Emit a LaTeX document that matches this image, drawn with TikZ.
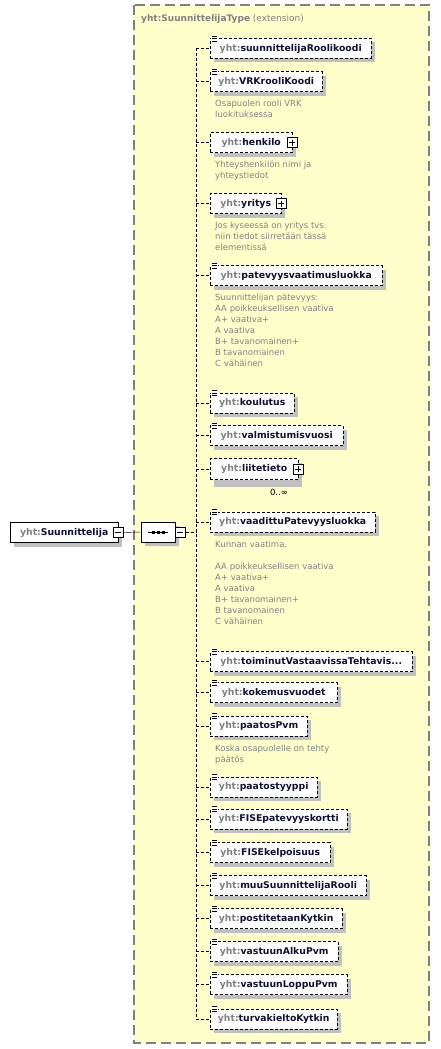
\documentclass[tikz,border=0pt]{standalone}
\usepackage{fontspec}
\setmainfont{DejaVu Sans}
\usetikzlibrary{shadows,shapes.misc}

\definecolor{typeyellow}{RGB}{255,255,204}
\definecolor{framegray}{RGB}{128,128,128}
\definecolor{shadegray}{RGB}{192,192,192}
\definecolor{pfxgray}{RGB}{128,128,128}
\definecolor{namedark}{RGB}{16,16,48}
\definecolor{docgray}{RGB}{128,128,128}

\newcommand{\pfx}{\textcolor{pfxgray}{yht:}}
\newcommand{\docicon}[1]{%
  \fill[white] ([shift={(1pt,3pt)}]#1.north west) rectangle ([shift={(8pt,-4pt)}]#1.north west);
  \foreach \dy in {2,-0.5,-3} \draw[line width=0.9pt] ([shift={(2pt,\dy pt)}]#1.north west) -- ++(5,0);
}

\tikzset{
  typebox/.style={fill=typeyellow, draw=framegray, line width=1.2pt, dash pattern=on 10pt off 5pt},
  typetitle/.style={anchor=base west, inner sep=0pt, text=pfxgray, font=\fontsize{9}{11}\selectfont},
  boxshadow/.style={drop shadow={shadow xshift=4pt, shadow yshift=-4pt, fill=shadegray, opacity=1}},
  root/.style={draw, fill=white, anchor=west, minimum height=20pt, inner sep=0pt, text=namedark,
    font=\fontsize{9.3}{11}\selectfont\bfseries, boxshadow},
  elem/.style={root, dash pattern=on 3pt off 2pt},
  desc/.style={anchor=base west, align=left, inner sep=0pt, text=docgray, font=\fontsize{8.5}{11}\selectfont},
  seq/.style={chamfered rectangle, chamfered rectangle xsep=5pt, draw, fill=white, minimum width=34pt,
    minimum height=20pt, inner sep=0pt, boxshadow},
  minus/.style={draw, solid, fill=white, minimum size=10pt, inner sep=0pt,
    path picture={\draw ([xshift=2pt]path picture bounding box.west) -- ([xshift=-2pt]path picture bounding box.east);}},
  plus/.style={minus,
    path picture={\draw ([xshift=2pt]path picture bounding box.west) -- ([xshift=-2pt]path picture bounding box.east);
      \draw ([yshift=-2pt]path picture bounding box.north) -- ([yshift=2pt]path picture bounding box.south);}},
  link/.style={dash pattern=on 3pt off 2pt, line width=0.8pt},
  mult/.style={anchor=base, inner sep=0pt, font=\fontsize{8.5}{11}\selectfont}
}

\begin{document}
\begin{tikzpicture}[x=1pt, y=-1pt]
\useasboundingbox (0,0) rectangle (440,1049);

% Dibuja el tipo
\draw[typebox] (134,5) rectangle (429,1043);
\node[typetitle] (title) at (141,22) {\textbf{yht:SuunnittelijaType} (extension)};

% Elemento raiz y secuencia
\node[root, minimum width=108pt] (suunnittelija) at (10,532.5) {\pfx Suunnittelija};
\node[minus] (suunnittelijaminus) at (suunnittelija.east) {};
\node[seq] (sequence) at (158,532) {};
\node[minus, anchor=west] (sequenceminus) at (sequence.east) {};
\draw (suunnittelijaminus.east) -- (sequence.west);
\draw ([xshift=-10pt]sequence.center) -- ([xshift=10pt]sequence.center);
\foreach \dx in {-5,0,5} \fill ([xshift=\dx pt]sequence.center) +(-1.5,-1.5) rectangle +(1.5,1.5);

% Elementos hijos (las notas se colocan por la linea base de su ultima linea)
\node[elem, minimum width=161pt] (roolikoodi) at (210,48.5) {\pfx suunnittelijaRoolikoodi};
\node[elem, minimum width=112pt] (vrkkoodi) at (210,81.5) {\pfx VRKrooliKoodi};
\node[desc] (vrkdoc) at (215,117) {Osapuolen rooli VRK\\luokituksessa};

\node[elem, minimum width=82pt] (henkilo) at (210,142.5) {\pfx henkilo};
\node[plus] (henkiloplus) at (henkilo.east) {};
\node[desc] (henkilodoc) at (215,178) {Yhteyshenkilön nimi ja\\yhteystiedot};

\node[elem, minimum width=71pt] (yritys) at (210,203.5) {\pfx yritys};
\node[plus] (yritysplus) at (yritys.east) {};
\node[desc] (yritysdoc) at (215,250) {Jos kyseessä on yritys tvs.\\niin tiedot siirretään tässä\\elementissä};

\node[elem, minimum width=172pt] (patevyys) at (210,275.5) {\pfx patevyysvaatimusluokka};
\node[desc] (patevyysdoc) at (215,366) {Suunnittelijan pätevyys:\\AA poikkeuksellisen vaativa\\A+ vaativa+\\A vaativa\\B+ tavanomainen+\\B tavanomainen\\C vähäinen};

\node[elem, minimum width=84pt] (koulutus) at (210,403) {\pfx koulutus};
\node[elem, minimum width=133pt] (valmistumisvuosi) at (210,435.5) {\pfx valmistumisvuosi};

\node[elem, minimum width=88pt, minimum height=21pt,
  drop shadow={shadow xshift=4pt, shadow yshift=-7pt, fill=shadegray, opacity=1}] (liitetieto) at (210,469) {\pfx liitetieto};
\node[plus] (liitetietoplus) at (liitetieto.east) {};
\node[mult] (liitetietomult) at (279,495) {0..∞};

\node[elem, minimum width=165pt] (vaadittu) at (210,522) {\pfx vaadittuPatevyysluokka};
\node[desc] (vaadittudoc) at (215,624) {Kunnan vaatima.\\[11pt]AA poikkeuksellisen vaativa\\A+ vaativa+\\A vaativa\\B+ tavanomainen+\\B tavanomainen\\C vähäinen};

\node[elem, minimum width=202pt] (toiminut) at (210,661.5) {\pfx toiminutVastaavissaTehtavis...};
\node[elem, minimum width=127pt] (kokemusvuodet) at (210,692.5) {\pfx kokemusvuodet};
\node[elem, minimum width=97pt] (paatospvm) at (210,726) {\pfx paatosPvm};
\node[desc] (paatosdoc) at (215,762) {Koska osapuolelle on tehty\\päätös};

\node[elem, minimum width=107pt] (paatostyyppi) at (210,787) {\pfx paatostyyppi};
\node[elem, minimum width=137pt] (fisekortti) at (210,819) {\pfx FISEpatevyyskortti};
\node[elem, minimum width=120pt] (fisekelpoisuus) at (210,852.5) {\pfx FISEkelpoisuus};
\node[elem, minimum width=156pt] (muurooli) at (210,885.5) {\pfx muuSuunnittelijaRooli};
\node[elem, minimum width=132pt] (postitetaan) at (210,918.5) {\pfx postitetaanKytkin};
\node[elem, minimum width=128pt] (alkupvm) at (210,951.5) {\pfx vastuunAlkuPvm};
\node[elem, minimum width=137pt] (loppupvm) at (210,984.5) {\pfx vastuunLoppuPvm};
\node[elem, minimum width=127pt] (turvakielto) at (210,1019) {\pfx turvakieltoKytkin};

% Iconos de documentacion
\foreach \e in {roolikoodi,vrkkoodi,patevyys,koulutus,valmistumisvuosi,vaadittu,toiminut,kokemusvuodet,
  paatospvm,paatostyyppi,fisekortti,fisekelpoisuus,muurooli,postitetaan,alkupvm,loppupvm,turvakielto}
  \docicon{\e};

% Conexiones
\coordinate (spine) at (196,532);
\draw[link] (sequenceminus.east) -- (spine);
\draw[link] (roolikoodi.west -| spine) -- (turvakielto.west -| spine);
\foreach \e in {roolikoodi,vrkkoodi,henkilo,yritys,patevyys,koulutus,valmistumisvuosi,liitetieto,vaadittu,
  toiminut,kokemusvuodet,paatospvm,paatostyyppi,fisekortti,fisekelpoisuus,muurooli,postitetaan,alkupvm,
  loppupvm,turvakielto}
  \draw[link] (\e.west -| spine) -- (\e.west);

\end{tikzpicture}
\end{document}
